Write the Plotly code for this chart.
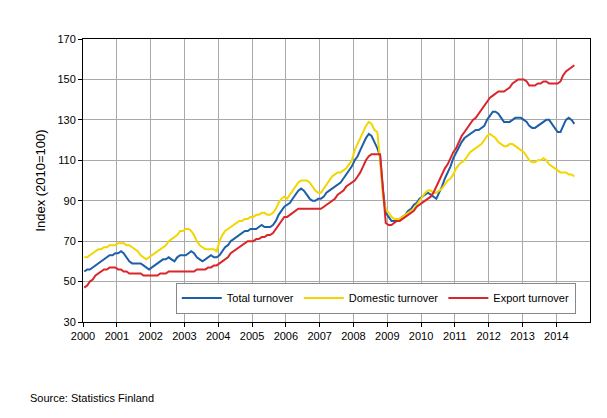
import plotly.graph_objects as go
import pandas as pd

total = [55,56,56,57,58,59,60,61,62,63,63,64,
         64,65,64,62,60,59,59,59,59,58,57,56,
         57,58,59,60,61,61,62,61,60,62,63,63,
         63,64,65,64,62,61,60,61,62,63,62,62,
         63,65,67,68,70,71,72,73,74,75,75,76,
         76,76,77,78,77,77,77,78,80,83,85,87,
         88,89,91,93,95,96,95,93,91,90,90,91,
         91,92,94,95,96,97,98,99,101,103,105,107,
         110,112,115,118,121,123,122,119,116,112,95,84,
         82,80,80,80,81,82,83,85,86,88,89,91,
         92,93,94,93,92,91,94,97,101,104,107,111,
         114,117,119,121,122,123,124,125,125,126,127,130,
         132,134,134,133,131,129,129,129,130,131,131,131,
         130,129,127,126,126,127,128,129,130,130,128,126,
         124,124,127,130,131,130,128]
domestic = [62,62,63,64,65,66,66,67,67,68,68,68,
            69,69,69,68,68,67,66,65,63,62,61,62,
            63,64,65,66,67,68,70,71,72,73,75,75,
            76,76,75,73,70,68,67,66,66,66,66,65,
            70,73,75,76,77,78,79,80,80,81,81,82,
            82,83,83,84,84,83,83,84,86,89,91,92,
            91,93,95,97,99,100,100,100,99,97,95,94,
            94,96,98,100,102,103,104,104,105,106,108,110,
            115,118,121,124,127,129,128,125,124,110,92,86,
            84,82,81,81,81,82,83,84,85,86,88,90,
            92,94,95,95,94,94,95,96,98,100,101,103,
            106,108,109,110,112,114,115,116,117,118,120,122,
            123,122,121,119,118,117,117,118,118,117,116,115,
            114,112,110,109,109,110,110,111,110,108,107,106,
            105,104,104,104,103,103,102]
export = [47,48,50,51,53,54,55,56,56,57,57,57,
          56,56,55,55,54,54,54,54,54,53,53,53,
          53,53,53,54,54,54,55,55,55,55,55,55,
          55,55,55,55,56,56,56,56,57,57,58,58,
          59,60,61,62,64,65,66,67,68,69,70,70,
          70,71,71,72,72,73,73,74,76,78,80,82,
          82,83,84,85,86,86,86,86,86,86,86,86,
          86,87,88,89,90,91,93,94,95,97,98,99,
          100,102,104,107,110,112,113,113,113,113,96,79,
          78,78,79,80,80,81,82,83,84,85,87,88,
          89,90,91,92,94,97,100,103,106,108,111,114,
          116,119,122,124,126,128,130,131,133,135,137,139,
          141,142,143,144,144,144,145,146,148,149,150,150,
          150,149,147,147,147,148,148,149,149,148,148,148,
          148,149,152,154,155,156,157]
dates = pd.date_range("2000-01-01", periods=len(total), freq="MS") + pd.Timedelta(days=14)

series = [("Total turnover", total, "#1f5fa8"),
          ("Domestic turnover", domestic, "#f2d600"),
          ("Export turnover", export, "#d9262c")]

fig = go.Figure()
for name, vals, col in series:
    fig.add_trace(go.Scatter(x=dates, y=vals, name=name, mode="lines",
                             line=dict(color=col, width=2)))

fig.update_layout(
    width=607, height=418, paper_bgcolor="white", plot_bgcolor="white",
    margin=dict(l=75, r=25, t=31, b=104),
    font=dict(family="Liberation Sans, Arial", size=11, color="black"),
    showlegend=True,
    legend=dict(orientation="h", x=0.972, xanchor="right", y=0.03, yanchor="bottom",
                bordercolor="#888", borderwidth=1, bgcolor="white",
                font=dict(size=11, color="black"), itemwidth=40),
    annotations=[dict(text="Source: Statistics Finland", x=0, xref="paper",
                      xshift=-55, y=-0.27, yref="paper", xanchor="left",
                      yanchor="middle", showarrow=False, font=dict(size=11, color="black"))],
)
fig.update_xaxes(type="date", range=["2000-01-01", "2014-12-31"], dtick="M12",
                 tick0="2000-01-01", tickformat="%Y", showgrid=True,
                 gridcolor="#aaaaaa", gridwidth=1, showline=True, linecolor="black",
                 mirror=True, ticks="outside", ticklen=4, tickcolor="black",
                 tickfont=dict(color="black"))
fig.update_yaxes(range=[30, 170], tick0=30, dtick=20, showgrid=True, gridcolor="#aaaaaa",
                 showline=True, linecolor="black", mirror=True, ticks="outside",
                 ticklen=4, tickcolor="black", zeroline=False,
                 tickfont=dict(color="black"),
                 title=dict(text="Index (2010=100)", standoff=8, font=dict(color="black")))
fig.write_html("out.html")
